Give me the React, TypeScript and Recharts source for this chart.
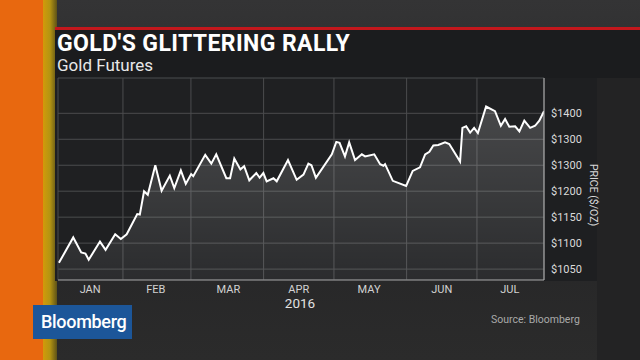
import { Area, AreaChart, CartesianGrid, XAxis, YAxis } from "recharts";

// day of year 2016 (0 = Jan 1) and gold futures close
const days = [
  3.7, 9.8, 13.2, 15.0, 16.4, 21.2, 23.6, 27.7, 30.1, 32.6, 37.1, 38.2, 40.0, 41.6, 44.8, 47.5,
  51.0, 52.9, 55.7, 57.8, 60.1, 61.0, 66.1, 68.7, 70.8, 75.1, 76.7, 78.5, 81.1, 82.7, 84.9, 87.9,
  89.3, 90.9, 92.3, 95.2, 96.6, 101.4, 105.1, 108.0, 110.1, 111.4, 113.3, 120.1, 122.0, 123.4,
  125.7, 127.5, 130.0, 132.9, 134.3, 138.2, 140.7, 142.1, 142.8, 146.1, 151.8, 154.6, 157.7,
  159.9, 161.7, 163.4, 165.5, 168.4, 170.2, 174.8, 175.8, 177.4, 179.1, 180.8, 182.4, 185.9,
  189.7, 192.2, 194.0, 195.8, 198.3, 200.1, 202.2, 204.7, 206.8, 208.6, 210.6,
];
const prices = [
  1062, 1111, 1082, 1080, 1068, 1103, 1087, 1117, 1108, 1117, 1156, 1155, 1200, 1193, 1250, 1201,
  1230, 1206, 1240, 1214, 1233, 1229, 1270, 1253, 1271, 1225, 1225, 1263, 1242, 1248, 1221, 1235,
  1226, 1235, 1219, 1225, 1219, 1260, 1222, 1232, 1253, 1250, 1226, 1271, 1295, 1293,
  1267, 1294, 1260, 1271, 1267, 1271, 1252, 1249, 1252, 1220, 1210, 1239, 1246,
  1271, 1276, 1288, 1289, 1294, 1291, 1257, 1322, 1325, 1313, 1322, 1312, 1363,
  1354, 1326, 1339, 1324, 1325, 1315, 1336, 1322, 1326, 1336, 1354,
];

const monthStarts = [31, 60, 91, 121, 152, 182];
const monthMids = [17, 45, 76, 106, 136, 167, 196];
const monthLabels = ["JAN", "FEB", "MAR", "APR", "MAY", "JUN", "JUL"];

const priceTicks = [1050, 1100, 1150, 1200, 1250, 1300, 1350];
const priceLabels = ["$1050", "$1100", "$1150", "$1200", "$1300", "$1300", "$1400"];

const data = days.map((day, i) => ({ day, price: prices[i] }));

const font = "Roboto, 'Liberation Sans', sans-serif";
const xDomain = [3.3, 210.6];

export default function App() {
  return (
    <div
      style={{
        position: "fixed",
        left: 0,
        top: 0,
        width: 640,
        height: 360,
        overflow: "hidden",
        fontFamily: font,
        background: "linear-gradient(to bottom, #343435 0%, #2c2c2d 30%, #272728 70%, #2b2b2b 100%)",
      }}
    >
      {/* left stripe */}
      <div style={{ position: "absolute", left: 0, top: 0, width: 43, height: 360, background: "#e8680f" }} />
      <div
        style={{
          position: "absolute",
          left: 43,
          top: 0,
          width: 14,
          height: 360,
          background: "linear-gradient(to right, #d29a0a, #b39412, #5e5217)",
        }}
      />
      {/* right dark side */}
      <div style={{ position: "absolute", left: 597, top: 30, width: 43, height: 330, background: "#232324" }} />

      {/* red rule + title panel */}
      <div style={{ position: "absolute", left: 55, top: 27, width: 585, height: 3, background: "#c3171c" }} />
      <div style={{ position: "absolute", left: 55, top: 30, width: 585, height: 48, background: "#1b1c1e" }} />
      <div
        style={{
          position: "absolute",
          left: 57,
          top: 34,
          color: "#fff",
          fontSize: 23,
          lineHeight: "20px",
          fontWeight: 700,
          letterSpacing: 0.4,
          whiteSpace: "nowrap",
        }}
      >
        GOLD'S GLITTERING RALLY
      </div>
      <div
        style={{
          position: "absolute",
          left: 57,
          top: 58,
          color: "#e8e8e8",
          fontSize: 17,
          lineHeight: "15px",
          whiteSpace: "nowrap",
        }}
      >
        Gold Futures
      </div>

      {/* chart panel */}
      <div style={{ position: "absolute", left: 55, top: 78, width: 542, height: 203, background: "#1e1f21" }} />

      <div style={{ position: "absolute", left: 0, top: 0 }}>
        <AreaChart width={640} height={360} data={data} margin={{ top: 78, right: 44, bottom: 60, left: 58 }}>
          <defs>
            <linearGradient id="goldFill" x1="0" y1="0" x2="0" y2="1">
              <stop offset="0%" stopColor="#ffffff" stopOpacity={0.3} />
              <stop offset="100%" stopColor="#ffffff" stopOpacity={0.09} />
            </linearGradient>
          </defs>
          <CartesianGrid stroke="#4b4c4e" fill="#1f2022" xAxisId="grid" />
          <XAxis
            dataKey="day"
            type="number"
            domain={xDomain}
            allowDataOverflow
            ticks={monthMids}
            interval={0}
            tickFormatter={(v: number) => monthLabels[monthMids.indexOf(v)] ?? ""}
            tickLine={false}
            tickSize={0}
            tickMargin={5}
            height={20}
            axisLine={{ stroke: "#9a9a9a" }}
            tick={{ fill: "#d2d2d2", fontSize: 11, fontFamily: font }}
          />
          <XAxis
            xAxisId="grid"
            dataKey="day"
            type="number"
            domain={xDomain}
            allowDataOverflow
            ticks={monthStarts}
            interval={0}
            tick={() => <g />}
            tickLine={false}
            axisLine={false}
            height={0}
          />
          <YAxis
            orientation="right"
            type="number"
            domain={[1029, 1418]}
            allowDataOverflow
            ticks={priceTicks}
            interval={0}
            tickFormatter={(v: number) => priceLabels[priceTicks.indexOf(v)] ?? ""}
            tickLine={false}
            tickSize={0}
            tickMargin={7}
            width={52}
            axisLine={{ stroke: "#b5b5b5" }}
            tick={{ fill: "#dadada", fontSize: 11, fontFamily: font, textAnchor: "start" }}
          />
          <Area
            type="linear"
            dataKey="price"
            stroke="#ffffff"
            strokeWidth={2}
            fill="url(#goldFill)"
            isAnimationActive={false}
            dot={false}
            activeDot={false}
          />
        </AreaChart>
      </div>

      {/* axis title */}
      <div
        style={{
          position: "absolute",
          left: 593,
          top: 195,
          color: "#d8d8d8",
          fontSize: 10.5,
          lineHeight: "11px",
          whiteSpace: "nowrap",
          transform: "translate(-50%, -50%) rotate(90deg)",
        }}
      >
        PRICE ($/OZ)
      </div>

      <div
        style={{
          position: "absolute",
          left: 300,
          top: 303,
          color: "#e2e2e2",
          fontSize: 13.5,
          lineHeight: "13px",
          transform: "translate(-50%, -50%)",
        }}
      >
        2016
      </div>
      <div
        style={{
          position: "absolute",
          left: 491,
          top: 314,
          color: "#a9a9a9",
          fontSize: 10.5,
          lineHeight: "12px",
          whiteSpace: "nowrap",
        }}
      >
        Source: Bloomberg
      </div>

      {/* logo */}
      <div
        style={{
          position: "absolute",
          left: 33,
          top: 305,
          width: 99,
          height: 34,
          background: "#1c5699",
          color: "#fff",
          fontSize: 18,
          fontWeight: 500,
          letterSpacing: -0.3,
          lineHeight: "34px",
          paddingLeft: 8,
          boxSizing: "border-box",
        }}
      >
        Bloomberg
      </div>
    </div>
  );
}
